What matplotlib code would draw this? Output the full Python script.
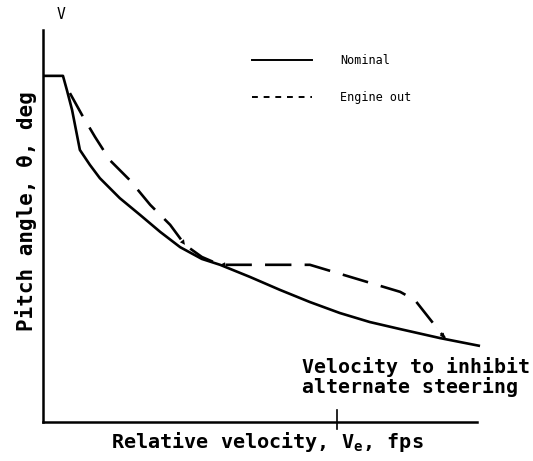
"""Pitch angle vs relative velocity sketch: nominal vs engine-out profiles."""
import matplotlib
matplotlib.use('Agg')
from matplotlib import pyplot as plt

# Schematic data (arbitrary units, axes run 0..100)
nominal_x = [0, 4.6, 5.5, 6.7, 8.5, 10.8, 13.1, 17.7, 22.4, 27.0, 31.6, 36.6, 40.8,
             47.7, 54.6, 61.5, 68.4, 75.3, 82.3, 91.5, 100.7]
nominal_y = [88.3, 88.3, 84.7, 79.6, 69.4, 65.6, 62.2, 57.1, 52.8, 48.5, 44.6, 41.6, 40.1,
             37.0, 33.7, 30.6, 27.8, 25.5, 23.7, 21.4, 19.4]

engine_out_x = [6.2, 9.0, 12.0, 15.4, 20.0, 24.7, 29.3, 32.7, 36.6, 40.8, 61.5, 82.3, 85.7, 92.6]
engine_out_y = [83.9, 78.3, 72.7, 66.8, 61.7, 55.4, 50.3, 45.2, 42.1, 40.1, 40.1, 33.2, 31.1, 21.4]

inhibit_velocity = 67.7
series_labels = ['Nominal', 'Engine out']

mono = 'DejaVu Sans Mono'

fig = plt.figure(figsize=(5.33, 4.61), dpi=100)
ax = fig.add_axes([43 / 533, 39 / 461, 434 / 533, 392 / 461])
ax.set_xlim(0, 100)
ax.set_ylim(0, 100)

lw = 1.9
ax.plot(nominal_x, nominal_y, color='black', lw=lw, clip_on=False, solid_capstyle='butt')
ax.plot(engine_out_x, engine_out_y, color='black', lw=lw, dashes=(10, 5), clip_on=False)

# small arrowheads along the engine-out path
for (x0, y0), (x1, y1) in [((29.3, 50.3), (32.7, 45.2)), ((47, 40.1), (40.8, 40.1)),
                           ((90.5, 24.3), (92.6, 21.4))]:
    ax.annotate('', xy=(x1, y1), xytext=(x0, y0),
                arrowprops=dict(arrowstyle='-|>', color='black', lw=0.01,
                                mutation_scale=9, shrinkA=0, shrinkB=0))

# axes: only left and bottom, no ticks
for side in ['top', 'right']:
    ax.spines[side].set_visible(False)
for side in ['left', 'bottom']:
    ax.spines[side].set_linewidth(1.8)
ax.set_xticks([])
ax.set_yticks([])

# single mark on the velocity axis
ax.plot([inhibit_velocity, inhibit_velocity], [3.0, -1.8], color='black', lw=1.2, clip_on=False)
ax.text(59.7, 11.5, 'Velocity to inhibit\nalternate steering', family=mono, fontweight='bold',
        fontsize=14.3, ha='left', va='center', linespacing=0.95)

# legend drawn by hand
ax.plot([48.2, 61.9], [92.3, 92.3], color='black', lw=1.4, clip_on=False)
ax.plot([48.2, 61.9], [82.9, 82.9], color='black', lw=1.4, dashes=(3, 3), clip_on=False)
ax.text(68.4, 92.3, series_labels[0], family=mono, fontsize=8.5, va='center')
ax.text(68.4, 82.9, series_labels[1], family=mono, fontsize=8.5, va='center')

ax.text(4.1, 104.0, 'V', family=mono, fontsize=10.5, ha='center', va='center')

ax.set_xlabel('Relative velocity, V$_\\mathregular{e}$, fps', family=mono, fontweight='bold',
              fontsize=14.5, va='center')
ax.xaxis.set_label_coords(0.516, -0.052)
ax.set_ylabel('Pitch angle, θ, deg', family=mono, fontweight='bold', fontsize=15, va='center')
ax.yaxis.set_label_coords(-0.04, 0.538)

fig.savefig('out.png', dpi=100)
